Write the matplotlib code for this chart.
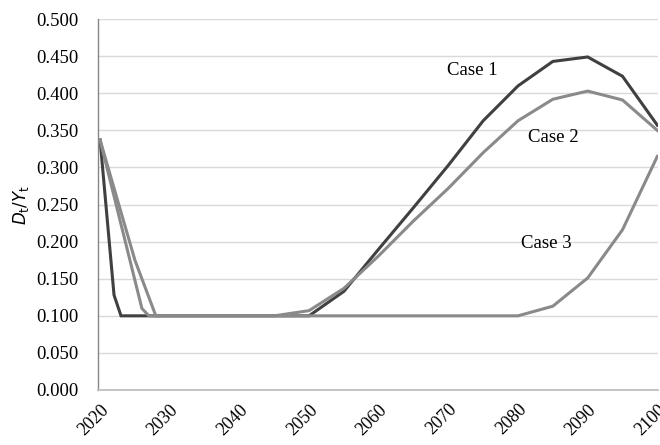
import matplotlib

matplotlib.use("Agg")
import matplotlib.pyplot as plt

# values (D_t / Y_t)
case1_years = [2020, 2022, 2023, 2050, 2055, 2060, 2065, 2070, 2075, 2080, 2085, 2090, 2095, 2100]
case1_vals = [0.337, 0.128, 0.100, 0.100, 0.133, 0.190, 0.246, 0.303, 0.363, 0.410, 0.443, 0.449, 0.423, 0.357]

case2_years = [2020, 2026, 2027, 2045, 2050, 2055, 2060, 2065, 2070, 2075, 2080, 2085, 2090, 2095, 2100]
case2_vals = [0.337, 0.110, 0.100, 0.100, 0.107, 0.137, 0.181, 0.228, 0.272, 0.320, 0.363, 0.392, 0.403, 0.391, 0.350]

case3_years = [2020, 2025, 2028, 2080, 2085, 2090, 2095, 2100]
case3_vals = [0.337, 0.175, 0.100, 0.100, 0.113, 0.151, 0.216, 0.315]

x_ticks = list(range(2020, 2101, 10))
y_ticks = [i * 0.05 for i in range(11)]

# label positions (data coords)
labels = {"Case 1": (2073.4, 0.431), "Case 2": (2085.0, 0.341), "Case 3": (2084.1, 0.198)}

serif = ["Liberation Serif", "DejaVu Serif"]

fig = plt.figure(figsize=(6.6, 4.45), dpi=100)
ax = fig.add_axes([0.1485, 0.1236, 0.8485, 0.8334])

ax.plot(case1_years, case1_vals, color="#404040", lw=2.2, solid_joinstyle="miter")
ax.plot(case2_years, case2_vals, color="#8a8a8a", lw=2.2, solid_joinstyle="miter")
ax.plot(case3_years, case3_vals, color="#8a8a8a", lw=2.2, solid_joinstyle="miter")

for txt, (xx, yy) in labels.items():
    ax.text(xx, yy, txt, ha="center", va="center", fontsize=13.5, family=serif)

ax.set_xlim(2019.7, 2100.1)
ax.set_ylim(0, 0.5)
ax.set_xticks(x_ticks)
ax.set_yticks(y_ticks)
ax.set_yticklabels([f"{v:.3f}" for v in y_ticks], family=serif, fontsize=13.5)
ax.set_xticklabels([str(v) for v in x_ticks], family=serif, fontsize=13,
                   rotation=45, ha="right", va="top", rotation_mode="anchor")
ax.tick_params(axis="y", length=0, pad=14)
ax.tick_params(axis="x", length=0, pad=8)

ax.grid(axis="y", color="#d9d9d9", lw=1)
ax.set_axisbelow(True)
for s in ["top", "right"]:
    ax.spines[s].set_visible(False)
ax.spines["left"].set_color("#868686")
ax.spines["bottom"].set_color("#bfbfbf")
ax.spines["left"].set_linewidth(1)
ax.spines["bottom"].set_linewidth(1.3)

ax.set_ylabel(r"$D_{\mathrm{t}}/Y_{\mathrm{t}}$", fontsize=12, labelpad=4)

plt.savefig("out.png", dpi=100)
